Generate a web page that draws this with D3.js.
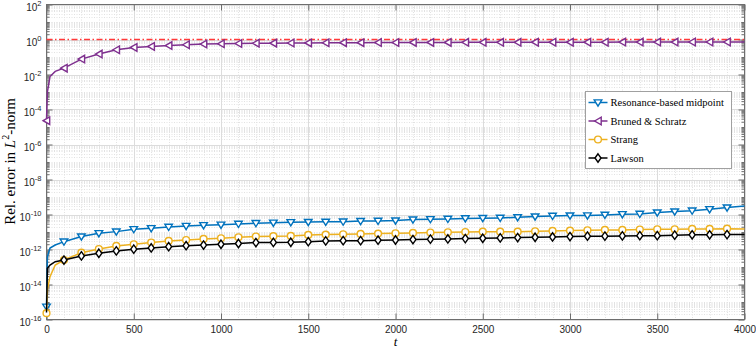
<!DOCTYPE html>
<html>
<head>
<meta charset="utf-8">
<script src="https://cdn.jsdelivr.net/npm/d3@7"></script>
<style>
  html, body { margin: 0; padding: 0; background: #fff; }
  svg { display: block; }
</style>
</head>
<body>
<div id="chart"></div>
<script>
// time samples (extra early samples only trace the steep start of the curves)
const times = [0, 5, 20, 50, 100, 200, 300, 400, 500, 600, 700, 800, 900, 1000,
  1100, 1200, 1300, 1400, 1500, 1600, 1700, 1800, 1900, 2000, 2100, 2200, 2300,
  2400, 2500, 2600, 2700, 2800, 2900, 3000, 3100, 3200, 3300, 3400, 3500, 3600,
  3700, 3800, 3900, 4000];

const resonance = [5.4e-16, 3.9e-13, 1.2e-12, 1.8e-12, 2.8e-12, 5.5e-12, 8.5e-12, 1.05e-11,
  1.45e-11, 1.65e-11, 1.95e-11, 2.2e-11, 2.45e-11, 2.6e-11, 2.9e-11, 3.2e-11, 3.4e-11,
  3.6e-11, 3.7e-11, 3.8e-11, 3.9e-11, 4.2e-11, 4.3e-11, 4.5e-11, 5.1e-11, 5.4e-11,
  5.6e-11, 6.0e-11, 6.2e-11, 6.4e-11, 6.9e-11, 7.6e-11, 8.3e-11, 8.7e-11, 8.8e-11,
  9.5e-11, 1.04e-10, 1.08e-10, 1.29e-10, 1.47e-10, 1.66e-10, 2.0e-10, 2.5e-10, 3.1e-10];

const brunedSchratz = [2.3e-5, 1e-3, 7.6e-3, 0.015, 0.023, 0.076, 0.147, 0.26, 0.35, 0.40,
  0.45, 0.50, 0.55, 0.57, 0.59, 0.61, 0.62, 0.63, 0.64, 0.65, 0.66, 0.66, 0.67, 0.67,
  0.68, 0.68, 0.68, 0.69, 0.69, 0.69, 0.69, 0.70, 0.70, 0.70, 0.70, 0.70, 0.71, 0.71,
  0.71, 0.71, 0.72, 0.72, 0.72, 0.72];

const strang = [2.3e-16, 4.9e-15, 2.8e-14, 1.3e-13, 2.5e-13, 6.6e-13, 1.07e-12, 1.6e-12,
  2.0e-12, 2.5e-12, 3.1e-12, 3.5e-12, 4.0e-12, 4.4e-12, 5.0e-12, 5.5e-12, 5.8e-12,
  6.0e-12, 6.8e-12, 7.1e-12, 7.4e-12, 7.8e-12, 8.1e-12, 8.5e-12, 8.9e-12, 9.3e-12,
  9.7e-12, 1.0e-11, 1.05e-11, 1.05e-11, 1.05e-11, 1.1e-11, 1.15e-11, 1.2e-11, 1.26e-11,
  1.32e-11, 1.32e-11, 1.38e-11, 1.44e-11, 1.44e-11, 1.5e-11, 1.5e-11, 1.55e-11, 1.5e-11];

const lawson = [2.5e-16, 8.5e-14, 1.3e-13, 2.0e-13, 2.5e-13, 4.3e-13, 6.1e-13, 8.3e-13,
  1.05e-12, 1.23e-12, 1.45e-12, 1.65e-12, 1.8e-12, 2.0e-12, 2.2e-12, 2.5e-12, 2.55e-12,
  2.6e-12, 2.8e-12, 3.1e-12, 3.2e-12, 3.2e-12, 3.4e-12, 3.5e-12, 3.7e-12, 3.9e-12,
  4.0e-12, 4.2e-12, 4.4e-12, 4.6e-12, 4.8e-12, 5.0e-12, 5.2e-12, 5.5e-12, 5.8e-12,
  5.8e-12, 6.0e-12, 6.2e-12, 6.2e-12, 6.6e-12, 6.9e-12, 6.9e-12, 7.1e-12, 7.1e-12];

const referenceLevel = 1;

const xTicks = [0, 500, 1000, 1500, 2000, 2500, 3000, 3500, 4000];
const yTickExponents = [2, 0, -2, -4, -6, -8, -10, -12, -14, -16];

const series = [
  { name: "Resonance-based midpoint", values: resonance, color: "#0072BD", marker: "down" },
  { name: "Bruned & Schratz", values: brunedSchratz, color: "#7E2F8E", marker: "left" },
  { name: "Strang", values: strang, color: "#EDB120", marker: "circle" },
  { name: "Lawson", values: lawson, color: "#000000", marker: "diamond", skipFirst: true },
];

const width = 756;
const height = 349;
const plot = { left: 46.5, right: 744.5, top: 4.5, bottom: 319.5 };
const sansFont = "'Liberation Sans', Arial, sans-serif";
const serifFont = "'Liberation Serif', 'DejaVu Serif', serif";

const svg = d3.select("#chart").append("svg")
  .attr("width", width)
  .attr("height", height);

const x = d3.scaleLinear().domain([0, 4000]).range([plot.left, plot.right]);
const y = d3.scaleLog().domain([1e-16, 1e2]).range([plot.bottom, plot.top]);

// minor positions of the log axis
const yMajor = yTickExponents.map((e) => Math.pow(10, e));
const yMinor = [];
for (let e = -16; e < 2; e++) {
  for (let m = 1; m <= 9; m++) {
    if (m === 1 && e % 2 === 0) continue;
    yMinor.push(m * Math.pow(10, e));
  }
}
yMinor.push(10);
const xMinor = d3.range(100, 4000, 100).filter((d) => d % 500 !== 0);

// grid
const grid = svg.append("g");
grid.selectAll(".ymin").data(yMinor).join("line")
  .attr("x1", plot.left).attr("x2", plot.right)
  .attr("y1", (d) => Math.round(y(d)) + 0.5).attr("y2", (d) => Math.round(y(d)) + 0.5)
  .attr("stroke", "#e2e2e2").attr("stroke-dasharray", "1,1.5");
grid.selectAll(".xmin").data(xMinor).join("line")
  .attr("y1", plot.top).attr("y2", plot.bottom)
  .attr("x1", (d) => Math.round(x(d)) + 0.5).attr("x2", (d) => Math.round(x(d)) + 0.5)
  .attr("stroke", "#e2e2e2").attr("stroke-dasharray", "1,1.5");
grid.selectAll(".ymaj").data(yMajor).join("line")
  .attr("x1", plot.left).attr("x2", plot.right)
  .attr("y1", (d) => Math.round(y(d)) + 0.5).attr("y2", (d) => Math.round(y(d)) + 0.5)
  .attr("stroke", "#dcdcdc");
grid.selectAll(".xmaj").data(xTicks).join("line")
  .attr("y1", plot.top).attr("y2", plot.bottom)
  .attr("x1", (d) => Math.round(x(d)) + 0.5).attr("x2", (d) => Math.round(x(d)) + 0.5)
  .attr("stroke", "#dcdcdc");

// axes (ticks point inward)
const axisColor = "#6e6e6e";
function styleAxis(g) {
  g.select(".domain").remove();
  g.selectAll("line").attr("stroke", axisColor);
}

svg.append("g").attr("transform", `translate(${plot.left},0)`)
  .call(d3.axisLeft(y).tickValues(yMinor).tickSizeInner(-3).tickSizeOuter(0).tickFormat(""))
  .call(styleAxis);
svg.append("g").attr("transform", `translate(${plot.right},0)`)
  .call(d3.axisRight(y).tickValues(yMinor).tickSizeInner(-3).tickSizeOuter(0).tickFormat(""))
  .call(styleAxis);
svg.append("g").attr("transform", `translate(${plot.right},0)`)
  .call(d3.axisRight(y).tickValues(yMajor).tickSizeInner(-6).tickSizeOuter(0).tickFormat(""))
  .call(styleAxis);

const yAxis = svg.append("g").attr("transform", `translate(${plot.left},0)`)
  .call(d3.axisLeft(y).tickValues(yMajor).tickSizeInner(-6).tickSizeOuter(0).tickPadding(5))
  .call(styleAxis);
yAxis.selectAll(".tick text").each(function (d) {
  const t = d3.select(this);
  const exp = Math.round(Math.log10(d));
  t.text("")
    .attr("font-family", sansFont)
    .attr("font-size", 10)
    .attr("fill", "#262626")
    .attr("dy", "0.62em");
  t.append("tspan").text("10");
  t.append("tspan").attr("font-size", 7.5).attr("dy", "-0.68em").text(String(exp));
});

svg.append("g").attr("transform", `translate(0,${plot.bottom})`)
  .call(d3.axisBottom(x).tickValues(xTicks).tickSizeInner(-6).tickSizeOuter(0)
    .tickPadding(6).tickFormat(d3.format("d")))
  .call(styleAxis)
  .call((g) => g.selectAll("text")
    .attr("font-family", sansFont).attr("font-size", 10).attr("fill", "#262626"));
svg.append("g").attr("transform", `translate(0,${plot.top})`)
  .call(d3.axisTop(x).tickValues(xTicks).tickSizeInner(-6).tickSizeOuter(0).tickFormat(""))
  .call(styleAxis);

// box
svg.append("rect")
  .attr("x", plot.left).attr("y", plot.top)
  .attr("width", plot.right - plot.left).attr("height", plot.bottom - plot.top)
  .attr("fill", "none").attr("stroke", axisColor);

// reference level
svg.append("line")
  .attr("x1", x(0)).attr("x2", x(4000))
  .attr("y1", y(referenceLevel)).attr("y2", y(referenceLevel))
  .attr("stroke", "#ff3a3a").attr("stroke-width", 1.3)
  .attr("stroke-dasharray", "6,2.5,1.5,2.5");

// markers
const symbols = {
  down: "M-3.8,-2.6L3.8,-2.6L0,3.6Z",
  left: "M-3.4,0L3.2,-3.8L3.2,3.8Z",
  diamond: "M0,-4.2L3,0L0,4.2L-3,0Z",
};
function drawMarker(sel, s) {
  if (s.marker === "circle") {
    sel.append("circle").attr("r", 3.4);
  } else {
    sel.append("path").attr("d", symbols[s.marker]);
  }
  sel.selectAll("*")
    .attr("fill", "#fff")
    .attr("stroke", s.color)
    .attr("stroke-width", 1.4);
}

const line = d3.line()
  .x((d) => x(d.t))
  .y((d) => y(d.v));

series.forEach((s) => {
  const pts = times.map((t, i) => ({ t, v: s.values[i] }));
  svg.append("path")
    .datum(pts)
    .attr("fill", "none")
    .attr("stroke", s.color)
    .attr("stroke-width", 1.5)
    .attr("d", line);

  const marks = pts.filter((d) => d.t % 100 === 0 && d.t < 4000 && !(s.skipFirst && d.t === 0));
  svg.append("g").selectAll("g").data(marks).join("g")
    .attr("transform", (d) => `translate(${x(d.t)},${y(d.v)})`)
    .each(function () { drawMarker(d3.select(this), s); });
});

// legend
const legend = svg.append("g").attr("transform", "translate(585.5,91.5)");
legend.append("rect")
  .attr("width", 146).attr("height", 77)
  .attr("fill", "#fff").attr("stroke", "#a0a0a0");
series.forEach((s, i) => {
  const row = legend.append("g").attr("transform", `translate(0,${11 + i * 18.5})`);
  row.append("line").attr("x1", 3).attr("x2", 22)
    .attr("stroke", s.color).attr("stroke-width", 1.5);
  drawMarker(row.append("g").attr("transform", "translate(12.5,0)"), s);
  row.append("text")
    .attr("x", 25).attr("y", 3.5)
    .attr("font-family", serifFont).attr("font-size", 10.5)
    .attr("fill", "#000")
    .text(s.name);
});

// axis titles
svg.append("text")
  .attr("x", x(2000)).attr("y", 346)
  .attr("text-anchor", "middle")
  .attr("font-family", serifFont).attr("font-style", "italic").attr("font-size", 13)
  .attr("fill", "#000")
  .text("t");

const yTitle = svg.append("text")
  .attr("transform", "translate(14.5,161.5) rotate(-90)")
  .attr("text-anchor", "middle")
  .attr("font-family", serifFont).attr("font-size", 15)
  .attr("fill", "#000");
yTitle.append("tspan").text("Rel. error in ");
yTitle.append("tspan").attr("font-style", "italic").text("L");
yTitle.append("tspan").attr("font-size", 10).attr("dy", "-0.55em").text("2");
yTitle.append("tspan").attr("dy", "0.37em").text("-norm");
</script>
</body>
</html>
